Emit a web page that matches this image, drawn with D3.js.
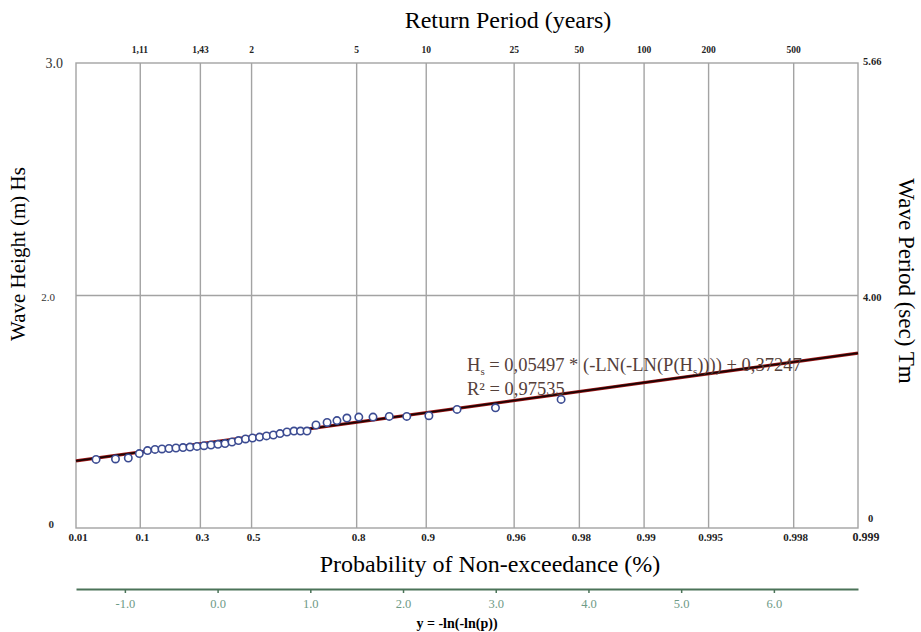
<!DOCTYPE html>
<html>
<head>
<meta charset="utf-8">
<script src="https://cdn.jsdelivr.net/npm/d3@7"></script>
<style>
  body { margin: 0; background: #fff; }
  svg { display: block; font-family: "Liberation Serif", "DejaVu Serif", serif; }
</style>
</head>
<body>
<svg id="chart" width="921" height="632"></svg>
<script>
// probabilities of non-exceedance (bottom axis)
const probTicks = [0.01, 0.1, 0.3, 0.5, 0.8, 0.9, 0.96, 0.98, 0.99, 0.995, 0.998, 0.999];
const probLabels = ["0.01", "0.1", "0.3", "0.5", "0.8", "0.9", "0.96", "0.98", "0.99", "0.995", "0.998", "0.999"];
// return periods (top axis)
const returnPeriods = [1.11, 1.43, 2, 5, 10, 25, 50, 100, 200, 500];
const returnLabels = ["1,11", "1,43", "2", "5", "10", "25", "50", "100", "200", "500"];
// reduced variate axis (green)
const reducedTicks = [-1, 0, 1, 2, 3, 4, 5, 6];
// left / right axis labels
const hsTickVals = [0, 1, 2];
const hsLabels = ["0", "2.0", "3.0"];
const tmLabels = ["0", "4.00", "5.66"];

// observed points: plotting position p and wave height Hs (m)
const obsP = [0.0245, 0.0494, 0.0728, 0.0977, 0.1189, 0.1403, 0.1617, 0.1847, 0.2087, 0.2341,
              0.2600, 0.2868, 0.3141, 0.3417, 0.3694, 0.3973, 0.4248, 0.4501, 0.4771, 0.5034,
              0.5294, 0.5543, 0.5781, 0.6005, 0.6230, 0.6449, 0.6643, 0.6830, 0.7075, 0.7357,
              0.7588, 0.7804, 0.8041, 0.8294, 0.8547, 0.8781, 0.9027, 0.9272, 0.9513, 0.9757];
const obsHs = [0.295, 0.297, 0.301, 0.320, 0.333, 0.338, 0.340, 0.342, 0.344, 0.346,
               0.348, 0.351, 0.354, 0.357, 0.360, 0.363, 0.370, 0.376, 0.383, 0.387,
               0.391, 0.396, 0.400, 0.406, 0.413, 0.417, 0.417, 0.417, 0.443, 0.454,
               0.462, 0.473, 0.477, 0.477, 0.480, 0.480, 0.483, 0.510, 0.517, 0.553];

// fit Hs = a * (-ln(-ln p)) + b
const fitA = 0.05497, fitB = 0.37247;

const svg = d3.select("#chart");
const plot = {left: 76, right: 858, top: 63, bottom: 528};

const gumbel = p => -Math.log(-Math.log(p));

let x = d3.scaleLinear()
    .domain([gumbel(0.01), gumbel(0.999)])
    .range([plot.left, plot.right]);
let y = d3.scaleLinear().domain([0, 2]).range([plot.bottom, plot.top]);

const xp = p => x(gumbel(p));

// grid
let grid = svg.append("g").attr("stroke", "#a3a3a3").attr("stroke-width", 1.4);
grid.selectAll("line.v").data(probTicks.slice(1, -1)).enter().append("line")
    .attr("class", "v")
    .attr("x1", d => xp(d)).attr("x2", d => xp(d))
    .attr("y1", y(2)).attr("y2", y(0));
grid.selectAll("line.h").data([1]).enter().append("line")
    .attr("class", "h")
    .attr("x1", x.range()[0]).attr("x2", x.range()[1])
    .attr("y1", d => y(d)).attr("y2", d => y(d));
grid.append("rect")
    .attr("x", plot.left).attr("y", plot.top)
    .attr("width", plot.right - plot.left).attr("height", plot.bottom - plot.top)
    .attr("fill", "none");

// bottom probability labels
svg.append("g").selectAll("text").data(probTicks).enter().append("text")
    .attr("x", (d, i) => i == probTicks.length - 1 ? xp(d) + 8 : xp(d) + 2)
    .attr("y", 541)
    .attr("text-anchor", "middle")
    .style("font-size", (d, i) => i == probTicks.length - 1 ? "12px" : "11px")
    .style("font-weight", "bold")
    .style("fill", "#222")
    .text((d, i) => probLabels[i]);

// top return period labels
svg.append("g").selectAll("text").data(returnPeriods).enter().append("text")
    .attr("x", d => xp(1 - 1 / d))
    .attr("y", 53)
    .attr("text-anchor", "middle")
    .style("font-size", "9.5px")
    .style("font-weight", "bold")
    .style("fill", "#222")
    .text((d, i) => returnLabels[i]);

// left axis labels
svg.append("g").selectAll("text").data(hsTickVals).enter().append("text")
    .attr("x", (d, i) => i == 2 ? 63 : (i == 1 ? 55 : 54))
    .attr("y", d => y(d) + (d == 0 ? 0 : 5))
    .attr("text-anchor", "end")
    .style("font-size", (d, i) => i == 2 ? "14px" : "11px")
    .style("font-weight", (d, i) => i == 0 ? "bold" : "normal")
    .style("fill", "#333")
    .text((d, i) => hsLabels[i]);

// right axis labels
svg.append("g").selectAll("text").data(hsTickVals).enter().append("text")
    .attr("x", (d, i) => i == 0 ? 868 : 863)
    .attr("y", d => d == 0 ? y(d) - 6 : y(d) + (d == 1 ? 5 : 2))
    .style("font-size", "10.5px")
    .style("font-weight", "bold")
    .style("fill", "#222")
    .text((d, i) => tmLabels[i]);

// titles
svg.append("text").attr("x", 508).attr("y", 28).attr("text-anchor", "middle")
    .style("font-size", "24px").text("Return Period (years)");
svg.append("text").attr("x", 490).attr("y", 572).attr("text-anchor", "middle")
    .style("font-size", "24px").text("Probability of Non-exceedance (%)");
svg.append("text").attr("transform", "translate(25,254) rotate(-90)").attr("text-anchor", "middle")
    .style("font-size", "21px").text("Wave Height (m) Hs");
svg.append("text").attr("transform", "translate(899,281) rotate(90)").attr("text-anchor", "middle")
    .style("font-size", "23px").text("Wave Period (sec) Tm");

// fitted line
let fitLine = d3.line().x(d => x(d)).y(d => y(fitA * d + fitB));
let ends = x.domain();
svg.append("path").datum(ends).attr("d", fitLine)
    .attr("stroke", "#a01818").attr("stroke-width", 3.2).attr("fill", "none");
svg.append("path").datum(ends).attr("d", fitLine)
    .attr("stroke", "#1c0404").attr("stroke-width", 1.9).attr("fill", "none");

// points
svg.append("g").selectAll("circle").data(obsP).enter().append("circle")
    .attr("cx", d => xp(d))
    .attr("cy", (d, i) => y(obsHs[i]))
    .attr("r", 3.7)
    .attr("fill", "#fff")
    .attr("stroke", "#3b4b92")
    .attr("stroke-width", 1.6);

// equation
let eq = svg.append("text").attr("x", 467).attr("y", 371)
    .style("font-size", "18.5px").style("fill", "#54403a");
eq.append("tspan").text("H");
eq.append("tspan").attr("dy", 4).style("font-size", "11px").text("s");
eq.append("tspan").attr("dy", -4).text(" = 0,05497 * (-LN(-LN(P(H");
eq.append("tspan").attr("dy", 4).style("font-size", "11px").text("s");
eq.append("tspan").attr("dy", -4).text(")))) + 0,37247");
svg.append("text").attr("x", 467).attr("y", 395)
    .style("font-size", "18.5px").style("fill", "#54403a")
    .text("R² = 0,97535");

// reduced variate axis
let gAxis = d3.axisBottom(x).tickValues(reducedTicks).tickFormat(d => d.toFixed(1))
    .tickSize(4).tickSizeOuter(0);
let ga = svg.append("g").attr("transform", "translate(0,589)").call(gAxis)
    .attr("font-family", null);
ga.select(".domain").attr("stroke", "#4b7358").attr("stroke-width", 2.2);
ga.selectAll(".tick line").attr("stroke", "#4b7358").attr("stroke-width", 1.5);
ga.selectAll(".tick text")
    .attr("y", 10)
    .style("font-family", "'Liberation Serif', serif")
    .style("font-size", "12.5px")
    .style("fill", "#6e9a86");
svg.append("text").attr("x", 457).attr("y", 628).attr("text-anchor", "middle")
    .style("font-size", "14px").style("font-weight", "bold").text("y = -ln(-ln(p))");
</script>
</body>
</html>
